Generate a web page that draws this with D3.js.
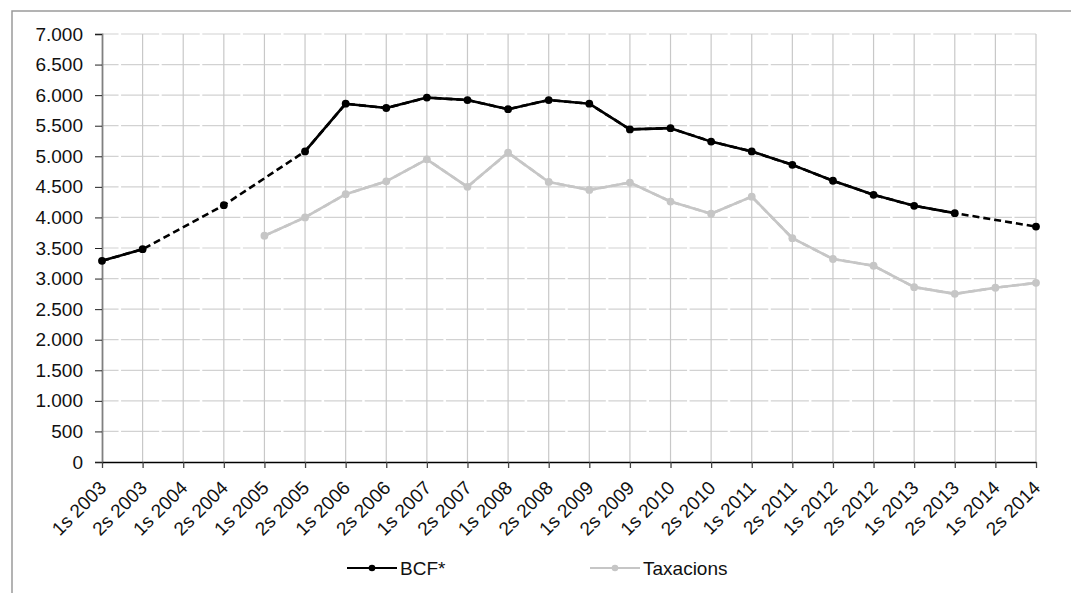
<!DOCTYPE html>
<html>
<head>
<meta charset="utf-8">
<script src="https://cdn.jsdelivr.net/npm/d3@7"></script>
<style>
  html, body { margin: 0; padding: 0; background: #fff; }
  svg { display: block; font-family: "Liberation Sans", Arial, sans-serif; }
</style>
</head>
<body>
<svg id="chart" width="1071" height="593"></svg>
<script>
// Half-year periods shown on the x axis
const periods = [
  "1s 2003", "2s 2003", "1s 2004", "2s 2004", "1s 2005", "2s 2005",
  "1s 2006", "2s 2006", "1s 2007", "2s 2007", "1s 2008", "2s 2008",
  "1s 2009", "2s 2009", "1s 2010", "2s 2010", "1s 2011", "2s 2011",
  "1s 2012", "2s 2012", "1s 2013", "2s 2013", "1s 2014", "2s 2014"
];

// BCF* series (null = no observation for that half-year)
const bcf = [
  3290, 3480, null, 4200, null, 5080,
  5860, 5790, 5960, 5920, 5770, 5920,
  5860, 5440, 5460, 5240, 5080, 4860,
  4600, 4370, 4190, 4070, null, 3850
];

// Taxacions series
const taxacions = [
  null, null, null, null, 3700, 4000,
  4380, 4590, 4950, 4500, 5060, 4580,
  4450, 4570, 4260, 4060, 4340, 3660,
  3320, 3210, 2860, 2750, 2850, 2930
];

const yTicks = [0, 500, 1000, 1500, 2000, 2500, 3000, 3500, 4000, 4500, 5000, 5500, 6000, 6500, 7000];

const seriesNames = ["BCF*", "Taxacions"];
const seriesColors = ["#000000", "#c6c6c6"];

const svg = d3.select("#chart");
const W = 1071, H = 593;
const plotL = 102, plotR = 1036, plotT = 34, plotB = 462;
const textColor = "#111";

// Frame around the chart
svg.append("path")
  .attr("d", `M12,${H} L12,11 L${W},11`)
  .attr("fill", "none")
  .attr("stroke", "#9a9a9a")
  .attr("stroke-width", 1.5);

const x = d3.scalePoint().domain(periods).range([plotL, plotR]);
const y = d3.scaleLinear().domain([0, 7000]).range([plotB, plotT]);
const step = x.step();

const fmt = d3.formatLocale({ decimal: ",", thousands: ".", grouping: [3], currency: ["", "€"] }).format(",d");

// Horizontal grid (dashed, broken midway between periods)
svg.append("g")
  .selectAll("line")
  .data(yTicks.filter(t => t > 0))
  .join("line")
  .attr("x1", plotL).attr("x2", plotR)
  .attr("y1", d => y(d)).attr("y2", d => y(d))
  .attr("stroke", "#d2d2d2")
  .attr("stroke-width", 1.2)
  .attr("stroke-dasharray", `${step - 2.5} 2.5`)
  .attr("stroke-dashoffset", step / 2 + 1.25);

// Vertical grid
svg.append("g")
  .selectAll("line")
  .data(periods.slice(1))
  .join("line")
  .attr("x1", d => x(d)).attr("x2", d => x(d))
  .attr("y1", plotT).attr("y2", plotB)
  .attr("stroke", "#c8c8c8")
  .attr("stroke-width", 1.2);

// Y axis
const yAxis = svg.append("g")
  .attr("transform", `translate(${plotL},0)`)
  .call(d3.axisLeft(y).tickValues(yTicks).tickFormat(fmt).tickSize(7).tickPadding(12));
yAxis.select(".domain").attr("stroke", "#808080").attr("stroke-width", 1.8);
yAxis.selectAll(".tick line").attr("stroke", "#222");
yAxis.selectAll(".tick text")
  .attr("font-size", 19)
  .attr("fill", textColor)
  .attr("font-family", "Liberation Sans, Arial, sans-serif");

// X axis
const xAxis = svg.append("g")
  .attr("transform", `translate(0,${plotB})`)
  .call(d3.axisBottom(x).tickSize(6).tickSizeOuter(0));
xAxis.select(".domain").attr("stroke", "#000").attr("stroke-width", 1.3);
xAxis.selectAll(".tick line").attr("stroke", "#444").attr("stroke-width", 1.3);
xAxis.selectAll(".tick text")
  .attr("font-size", 19)
  .attr("fill", textColor)
  .attr("font-family", "Liberation Sans, Arial, sans-serif")
  .attr("text-anchor", "end")
  .attr("dy", null)
  .attr("y", 0)
  .attr("transform", "translate(5,27) rotate(-45)");

// Series lines and markers
const seriesData = [bcf, taxacions];
seriesData.forEach((vals, i) => {
  const pts = periods.map((p, j) => ({ p, v: vals[j] }));
  const defined = pts.filter(d => d.v != null);
  const color = seriesColors[i];
  const g = svg.append("g");

  // Dashed bridge across missing half-years
  g.append("path")
    .datum(defined)
    .attr("fill", "none")
    .attr("stroke", color)
    .attr("stroke-width", 2.6)
    .attr("stroke-dasharray", "7 4")
    .attr("d", d3.line().x(d => x(d.p)).y(d => y(d.v)));

  // Solid line where consecutive values exist
  g.append("path")
    .datum(pts)
    .attr("fill", "none")
    .attr("stroke", color)
    .attr("stroke-width", 2.6)
    .attr("stroke-linejoin", "round")
    .attr("d", d3.line().defined(d => d.v != null).x(d => x(d.p)).y(d => y(d.v)));

  g.selectAll("circle")
    .data(defined)
    .join("circle")
    .attr("cx", d => x(d.p))
    .attr("cy", d => y(d.v))
    .attr("r", 3.9)
    .attr("fill", color);
});

// Legend
const legendX = [347, 590];
seriesNames.forEach((name, i) => {
  const g = svg.append("g").attr("transform", `translate(${legendX[i]},568)`);
  g.append("line")
    .attr("x1", 0).attr("x2", 50)
    .attr("y1", 0).attr("y2", 0)
    .attr("stroke", seriesColors[i])
    .attr("stroke-width", 2.2);
  g.append("circle")
    .attr("cx", 25).attr("cy", 0).attr("r", 3.3)
    .attr("fill", seriesColors[i]);
  g.append("text")
    .attr("x", 53).attr("y", 7)
    .attr("font-size", 19)
    .attr("fill", textColor)
    .text(name);
});
</script>
</body>
</html>
